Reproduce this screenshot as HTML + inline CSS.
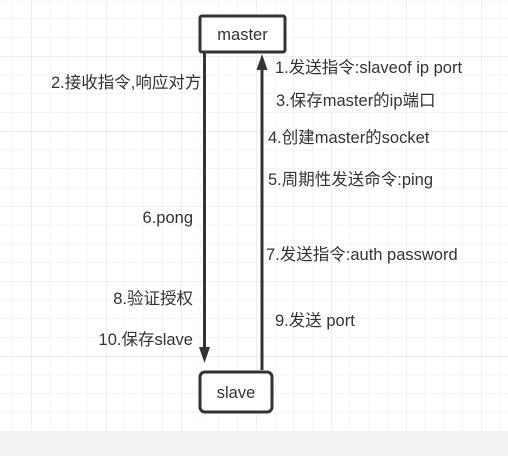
<!DOCTYPE html>
<html><head><meta charset="utf-8"><style>
html,body{margin:0;padding:0;width:508px;height:456px;overflow:hidden;background:#fff}
svg{display:block}
text{font-family:"Liberation Sans","Noto Sans CJK SC",sans-serif;font-size:16.5px;fill:#333}
</style></head><body>
<svg width="508" height="456" xmlns="http://www.w3.org/2000/svg">
<defs>
<pattern id="g" x="12.25" y="18.5" width="18.75" height="18.75" patternUnits="userSpaceOnUse">
<path d="M0 0V18.75M0 0H18.75" stroke="#ebebeb" stroke-width="1" fill="none"/>
</pattern>
<pattern id="G" x="31" y="56" width="75" height="75" patternUnits="userSpaceOnUse">
<path d="M0 0V75M0 0H75" stroke="#dedede" stroke-width="1" fill="none"/>
</pattern>
</defs>
<rect width="508" height="431" fill="url(#g)"/>
<rect width="508" height="431" fill="url(#G)"/>
<rect x="0" y="431" width="508" height="25" fill="#f2f2f2"/>
<line x1="204.5" y1="52" x2="204.5" y2="350" stroke="#333" stroke-width="3"/>
<polygon points="199,347 210,347 204.5,363" fill="#333"/>
<line x1="262" y1="370" x2="262" y2="68" stroke="#333" stroke-width="3"/>
<polygon points="256.5,70 267.5,70 262,54" fill="#333"/>
<rect x="200" y="16" width="85" height="36" rx="2" fill="#fff" stroke="#333" stroke-width="3"/>
<text x="242.5" y="40" text-anchor="middle">master</text>
<rect x="200" y="372" width="72" height="40" rx="5" fill="#fff" stroke="#333" stroke-width="3"/>
<text x="236" y="398" text-anchor="middle">slave</text>
<text x="51" y="88">2.接收指令,响应对方</text>
<text x="275" y="73">1.发送指令:slaveof ip port</text>
<text x="276" y="106">3.保存master的ip端口</text>
<text x="268" y="143">4.创建master的socket</text>
<text x="268" y="185">5.周期性发送命令:ping</text>
<text x="193" y="223" text-anchor="end">6.pong</text>
<text x="266" y="260">7.发送指令:auth password</text>
<text x="193" y="304" text-anchor="end">8.验证授权</text>
<text x="275" y="326">9.发送 port</text>
<text x="193" y="345" text-anchor="end">10.保存slave</text>
</svg>
</body></html>
